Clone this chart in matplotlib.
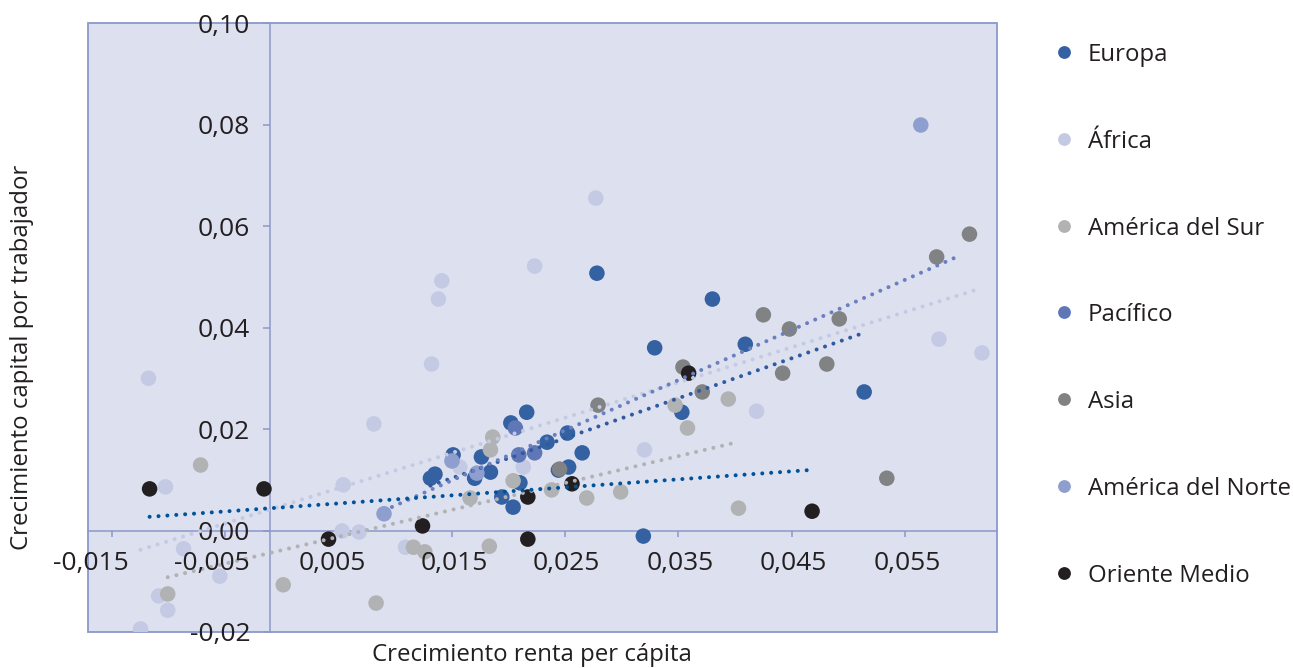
import matplotlib
matplotlib.use("Agg")
import numpy as np
import matplotlib.pyplot as plt
from matplotlib.lines import Line2D
from matplotlib.patches import Rectangle
from matplotlib.ticker import FixedLocator, FuncFormatter

plt.rcParams['font.family'] = ['Open Sans', 'DejaVu Sans']

# ---- data: growth of income per capita (x) vs growth of capital per worker (y)
series_names = ["Europa", "África", "América del Sur", "Pacífico", "Asia",
                "América del Norte", "Oriente Medio"]

europa_x = [0.0278, 0.0329, 0.0380, 0.0409, 0.0514, 0.0353, 0.0319, 0.0216,
            0.0202, 0.0252, 0.0234, 0.0265, 0.0253, 0.0176, 0.0151, 0.0135,
            0.0131, 0.0170, 0.0184, 0.0194, 0.0204, 0.0210, 0.0244]
europa_y = [0.0507, 0.0360, 0.0456, 0.0367, 0.0273, 0.0233, -0.0011, 0.0233,
            0.0212, 0.0192, 0.0174, 0.0153, 0.0125, 0.0145, 0.0149, 0.0111,
            0.0103, 0.0103, 0.0115, 0.0066, 0.0046, 0.0094, 0.0119]

africa_x = [-0.0118, -0.0103, -0.0087, -0.0055, -0.0109, -0.0101, -0.0125,
            0.0081, 0.0054, 0.0053, 0.0068, 0.0109, 0.0157, 0.0132, 0.0141,
            0.0138, 0.0223, 0.0277, 0.0213, 0.0320, 0.0419, 0.0580, 0.0618]
africa_y = [0.0300, 0.0086, -0.0036, -0.0090, -0.0129, -0.0157, -0.0194,
            0.0210, 0.0090, -0.0001, -0.0003, -0.0033, 0.0125, 0.0328, 0.0492,
            0.0456, 0.0521, 0.0655, 0.0125, 0.0159, 0.0235, 0.0377, 0.0350]

sur_x = [-0.0072, -0.0101, 0.0001, 0.0083, 0.0116, 0.0126, 0.0183, 0.0166,
         0.0186, 0.0184, 0.0204, 0.0238, 0.0269, 0.0299, 0.0347, 0.0358,
         0.0394, 0.0403]
sur_y = [0.0129, -0.0125, -0.0107, -0.0143, -0.0033, -0.0042, -0.0031, 0.0064,
         0.0184, 0.0159, 0.0098, 0.0080, 0.0064, 0.0076, 0.0247, 0.0202,
         0.0259, 0.0044]

pacifico_x = [0.0206, 0.0209, 0.0223]
pacifico_y = [0.0202, 0.0149, 0.0153]

asia_x = [0.0607, 0.0578, 0.0425, 0.0448, 0.0492, 0.0354, 0.0371, 0.0442,
          0.0481, 0.0534, 0.0279, 0.0245]
asia_y = [0.0584, 0.0539, 0.0425, 0.0397, 0.0417, 0.0322, 0.0273, 0.0310,
          0.0328, 0.0103, 0.0247, 0.0121]

norte_x = [0.0090, 0.0150, 0.0172, 0.0564]
norte_y = [0.0033, 0.0137, 0.0113, 0.0799]

oriente_x = [-0.0117, -0.0016, 0.0041, 0.0124, 0.0217, 0.0256, 0.0217, 0.0359,
             0.0468]
oriente_y = [0.0082, 0.0082, -0.0017, 0.0009, 0.0066, 0.0092, -0.0017, 0.0310,
             0.0038]

# linear trend lines: start x, end x, slope, intercept
trend_names = ["Europa", "África", "América del Sur", "Pacífico", "Oriente Medio"]
trend_x_start = [0.0131, -0.0125, -0.0101, 0.0097, -0.0117]
trend_x_end = [0.0513, 0.0616, 0.0398, 0.0600, 0.0464]
trend_slope = [0.787, 0.694, 0.529, 0.988, 0.158]
trend_intercept = [-0.00148, 0.00488, -0.00386, -0.00495, 0.00455]

x_ticks = [-0.015, -0.005, 0.005, 0.015, 0.025, 0.035, 0.045, 0.055]
y_ticks = [-0.02, 0.0, 0.02, 0.04, 0.06, 0.08, 0.10]
y_axis_cross = -0.0011

# ---- styling
marker_colors = {
    "Europa": "#3461A1",
    "África": "#C5CAE4",
    "América del Sur": "#B1B2B4",
    "Pacífico": "#5F77B7",
    "Asia": "#818284",
    "América del Norte": "#8E9FCF",
    "Oriente Medio": "#231F20",
}
trend_colors = {
    "Europa": "#2F5B9E",
    "África": "#C5CAE4",
    "América del Sur": "#B1B2B4",
    "Pacífico": "#6A80BE",
    "Oriente Medio": "#00529B",
}
bg = "#DDE0EF"
frame = "#8A99CB"
text_color = "#231F20"
fs_tick = 19
fs_text = 17.3
# horizontal nudges (points) of the x tick labels
x_label_nudge = [-15.5, -9.5, -4.3, 1.5, 0.8, 1.1, 1.1, 1.5]

W, H = 1293, 668
fig = plt.figure(figsize=(W / 100, H / 100), dpi=100)
fig.patch.set_facecolor("white")
ax = fig.add_axes([88 / W, 36 / H, 909 / W, 609 / H])
ax.set_facecolor(bg)
ax.set_xlim(-0.01714, 0.06313)
ax.set_ylim(-0.02, 0.10)

data = {
    "Europa": (europa_x, europa_y),
    "África": (africa_x, africa_y),
    "América del Sur": (sur_x, sur_y),
    "Pacífico": (pacifico_x, pacifico_y),
    "Asia": (asia_x, asia_y),
    "América del Norte": (norte_x, norte_y),
    "Oriente Medio": (oriente_x, oriente_y),
}
for i, name in enumerate(series_names):
    xs, ys = data[name]
    ax.scatter(xs, ys, s=125, color=marker_colors[name], edgecolors="none",
               zorder=2 + i * 0.01)

for name, x0, x1, m, b in zip(trend_names, trend_x_start, trend_x_end,
                              trend_slope, trend_intercept):
    xs = np.array([x0, x1])
    ax.plot(xs, m * xs + b, color=trend_colors[name], lw=2.9,
            linestyle=(0, (0.01, 2.2)), dash_capstyle="round", zorder=3)

# axes crossing inside the plot area
for s in ("top", "right"):
    ax.spines[s].set_visible(False)
ax.spines["left"].set_position(("data", y_axis_cross))
ax.spines["bottom"].set_position(("data", 0.0))
for s in ("left", "bottom"):
    ax.spines[s].set_color(frame)
    ax.spines[s].set_linewidth(1.1)
    ax.spines[s].set_zorder(1.5)
ax.add_patch(Rectangle((0, 0), 1, 1, transform=ax.transAxes, fill=False,
                       ec=frame, lw=1.3, clip_on=False, zorder=1.5))

ax.xaxis.set_major_locator(FixedLocator(x_ticks))
ax.yaxis.set_major_locator(FixedLocator(y_ticks))
ax.yaxis.set_major_formatter(FuncFormatter(lambda v, p: f"{v:.2f}".replace(".", ",")))
ax.tick_params(axis="x", direction="out", length=4.5, width=1.1, color=frame,
               labelbottom=False)
ax.tick_params(axis="y", direction="out", length=5, width=1.1, color=frame,
               pad=9, labelsize=fs_tick, labelcolor=text_color)

# x tick labels sit under the horizontal axis line
for v, dx in zip(x_ticks, x_label_nudge):
    ax.annotate(f"{v:.3f}".replace(".", ","), xy=(v, 0.0), xycoords="data",
                xytext=(dx, -15), textcoords="offset points", ha="center",
                va="top", fontsize=fs_tick, color=text_color, zorder=4,
                annotation_clip=False)

# axis titles
fig.text(532 / W, 1 - 655 / H, "Crecimiento renta per cápita", ha="center",
         va="center", fontsize=fs_text, color=text_color)
fig.text(22 / W, 1 - 357 / H, "Crecimiento capital por trabajador", ha="center",
         va="center", rotation=90, fontsize=fs_text, color=text_color)

# legend
for i, name in enumerate(series_names):
    ypx = 52 + i * 86.8
    fig.add_artist(Line2D([1064 / W], [1 - ypx / H], marker="o", markersize=8.2,
                          color=marker_colors[name], linestyle="none",
                          transform=fig.transFigure))
    fig.text(1088 / W, 1 - ypx / H, name, ha="left", va="center_baseline",
             fontsize=fs_text, color=text_color)

fig.savefig("out.png", dpi=100)
